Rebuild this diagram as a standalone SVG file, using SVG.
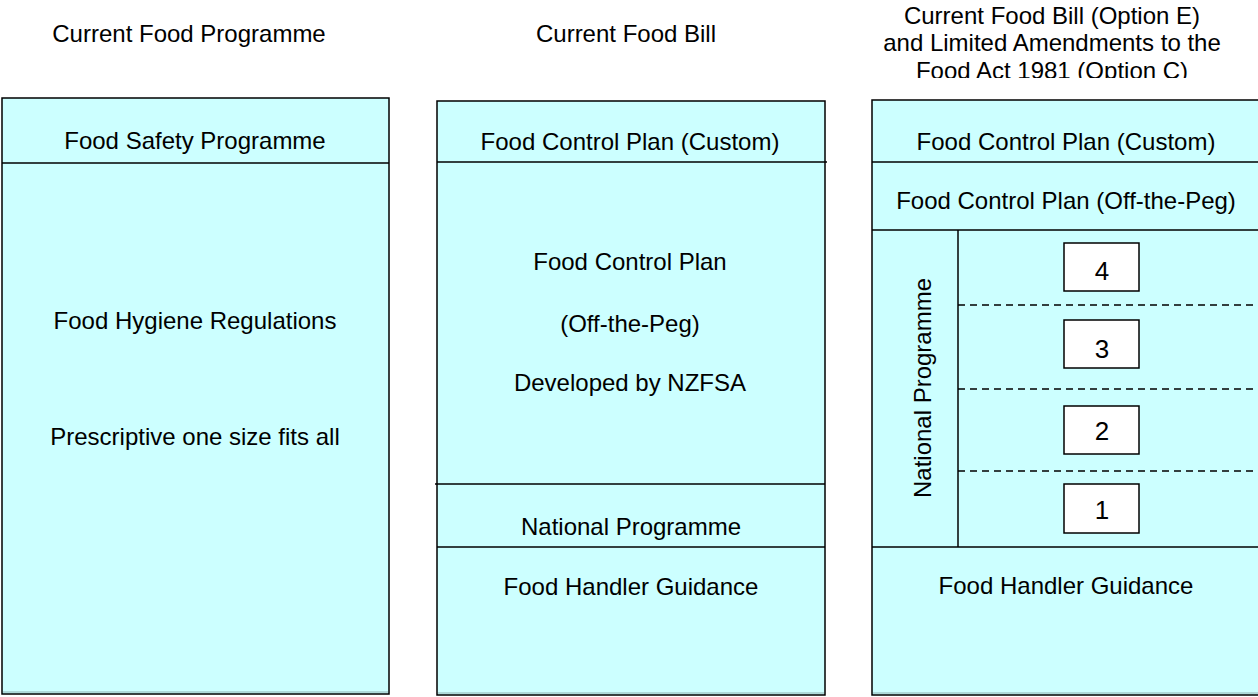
<svg xmlns="http://www.w3.org/2000/svg" width="1258" height="697" viewBox="0 0 1258 697">
<defs>
<clipPath id="titleclip"><rect x="850" y="0" width="408" height="78"/></clipPath>
</defs>
<style>
text{font-family:"Liberation Sans",Arial,sans-serif;font-size:24px;fill:#000;text-anchor:middle;dominant-baseline:central}
.box{fill:#CCFFFF;stroke:#000;stroke-width:1.5}
.ln{stroke:#000;stroke-width:1.5;fill:none}
.dash{stroke:#000;stroke-width:1.3;stroke-dasharray:7,5;fill:none}
.num{fill:#fff;stroke:#000;stroke-width:1.5}
.numt{font-size:26px}
.shadow{stroke:#8fb3b3;stroke-width:1}
</style>
<g id="titles">
<text x="189" y="33">Current Food Programme</text>
<text x="626" y="33">Current Food Bill</text>
<g clip-path="url(#titleclip)">
<text x="1052" y="15">Current Food Bill (Option E)</text>
<text x="1052" y="42">and Limited Amendments to the</text>
<text x="1052" y="70">Food Act 1981 (Option C)</text>
</g>
</g>
<g id="col1">
<rect class="box" x="2" y="98" width="387" height="596"/>
<line class="shadow" x1="3" y1="692" x2="388" y2="692"/>
<line class="ln" x1="2" y1="163" x2="389" y2="163"/>
<text x="195" y="140">Food Safety Programme</text>
<text x="195" y="320">Food Hygiene Regulations</text>
<text x="195" y="436">Prescriptive one size fits all</text>
</g>
<g id="col2">
<rect class="box" x="437" y="101" width="388" height="594"/>
<line class="shadow" x1="438" y1="693" x2="824" y2="693"/>
<line class="ln" x1="437" y1="162" x2="827" y2="162"/>
<line class="ln" x1="435" y1="484" x2="825" y2="484"/>
<line class="ln" x1="437" y1="547" x2="825" y2="547"/>
<text x="630" y="141">Food Control Plan (Custom)</text>
<text x="630" y="261">Food Control Plan</text>
<text x="630" y="323">(Off-the-Peg)</text>
<text x="630" y="382">Developed by NZFSA</text>
<text x="631" y="526">National Programme</text>
<text x="631" y="586">Food Handler Guidance</text>
</g>
<g id="col3">
<rect class="box" x="872" y="100" width="400" height="595"/>
<line class="shadow" x1="873" y1="693" x2="1258" y2="693"/>
<line class="ln" x1="872" y1="162" x2="1258" y2="162"/>
<line class="ln" x1="872" y1="230" x2="1258" y2="230"/>
<line class="ln" x1="872" y1="547" x2="1258" y2="547"/>
<line class="ln" x1="958" y1="230" x2="958" y2="547"/>
<line class="dash" x1="958" y1="305" x2="1258" y2="305"/>
<line class="dash" x1="958" y1="389" x2="1258" y2="389"/>
<line class="dash" x1="958" y1="471" x2="1258" y2="471"/>
<text x="1066" y="141">Food Control Plan (Custom)</text>
<text x="1066" y="200">Food Control Plan (Off-the-Peg)</text>
<text x="922" y="388" transform="rotate(-90 922 388)">National Programme</text>
<text x="1066" y="585">Food Handler Guidance</text>
</g>
<g id="n4"><rect class="num" x="1064" y="243" width="75" height="48"/><text class="numt" x="1102" y="271">4</text></g>
<g id="n3"><rect class="num" x="1064" y="320" width="75" height="48"/><text class="numt" x="1102" y="349">3</text></g>
<g id="n2"><rect class="num" x="1064" y="406" width="75" height="48"/><text class="numt" x="1102" y="431">2</text></g>
<g id="n1"><rect class="num" x="1064" y="484" width="75" height="49"/><text class="numt" x="1102" y="510">1</text></g>
</svg>
